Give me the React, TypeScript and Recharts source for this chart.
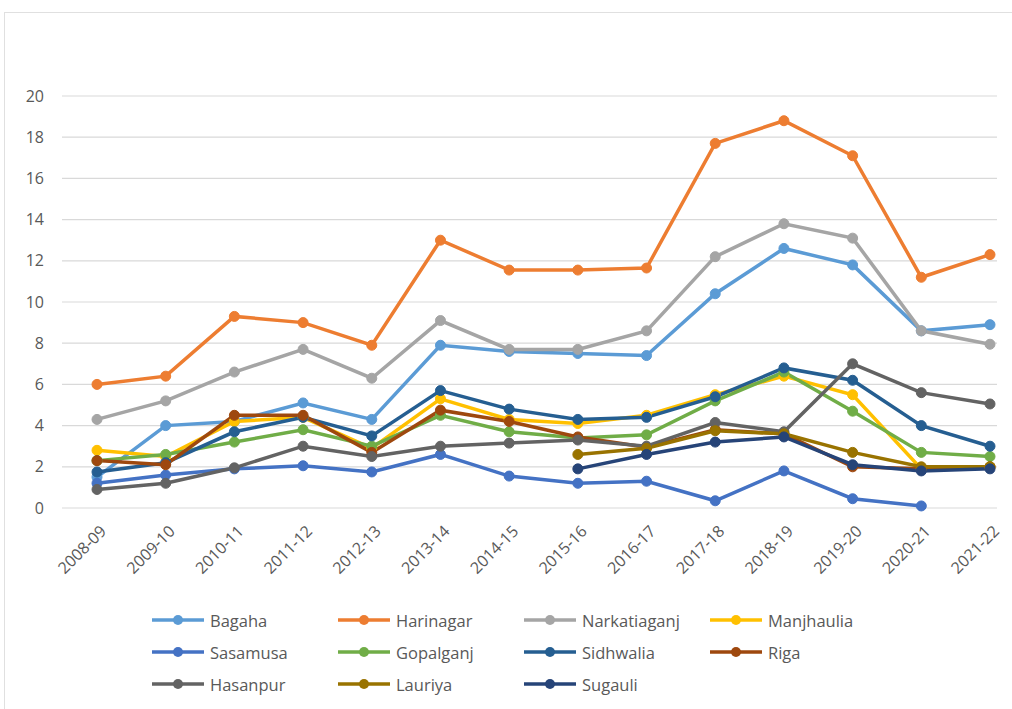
import React from "react";
import { LineChart, Line, XAxis, YAxis, CartesianGrid } from "recharts";

const categories = ["2008-09","2009-10","2010-11","2011-12","2012-13","2013-14","2014-15","2015-16","2016-17","2017-18","2018-19","2019-20","2020-21","2021-22"];
const yTicks = [0, 2, 4, 6, 8, 10, 12, 14, 16, 18, 20];

const bagaha = [1.5, 4.0, 4.2, 5.1, 4.3, 7.9, 7.6, 7.5, 7.4, 10.4, 12.6, 11.8, 8.6, 8.9];
const harinagar = [6.0, 6.4, 9.3, 9.0, 7.9, 13.0, 11.55, 11.55, 11.65, 17.7, 18.8, 17.1, 11.2, 12.3];
const narkatiaganj = [4.3, 5.2, 6.6, 7.7, 6.3, 9.1, 7.7, 7.7, 8.6, 12.2, 13.8, 13.1, 8.6, 7.95];
const manjhaulia = [2.8, 2.5, 4.2, 4.4, 2.9, 5.3, 4.3, 4.1, 4.5, 5.5, 6.4, 5.5, 1.9, 2.0];
const sasamusa = [1.2, 1.6, 1.9, 2.05, 1.75, 2.6, 1.55, 1.2, 1.3, 0.35, 1.8, 0.45, 0.1, null];
const gopalganj = [2.3, 2.6, 3.2, 3.8, 3.0, 4.5, 3.7, 3.4, 3.55, 5.2, 6.6, 4.7, 2.7, 2.5];
const sidhwalia = [1.75, 2.2, 3.7, 4.4, 3.5, 5.7, 4.8, 4.3, 4.4, 5.4, 6.8, 6.2, 4.0, 3.0];
const riga = [2.3, 2.1, 4.5, 4.5, 2.7, 4.75, 4.2, 3.45, 2.95, 3.8, 3.6, 2.0, 1.9, 2.0];
const hasanpur = [0.9, 1.2, 1.95, 3.0, 2.5, 3.0, 3.15, 3.3, 3.0, 4.15, 3.7, 7.0, 5.6, 5.05];
const lauriya = [null, null, null, null, null, null, null, 2.6, 2.9, 3.75, 3.6, 2.7, 2.0, 2.0];
const sugauli = [null, null, null, null, null, null, null, 1.9, 2.6, 3.2, 3.45, 2.1, 1.8, 1.9];

const seriesNames = ["Bagaha","Harinagar","Narkatiaganj","Manjhaulia","Sasamusa","Gopalganj","Sidhwalia","Riga","Hasanpur","Lauriya","Sugauli"];
const seriesValues = [bagaha, harinagar, narkatiaganj, manjhaulia, sasamusa, gopalganj, sidhwalia, riga, hasanpur, lauriya, sugauli];
const seriesColors = ["#5B9BD5","#ED7D31","#A5A5A5","#FFC000","#4472C4","#70AD47","#255E91","#9E480E","#636363","#997300","#264478"];

const data = categories.map((c, i) => {
  const row: Record<string, any> = { cat: c };
  seriesNames.forEach((n, k) => { row[n] = seriesValues[k][i]; });
  return row;
});

const FONT = "'Open Sans', 'Noto Sans', sans-serif";

const XTick = (props: any) => {
  const { x, y, payload } = props;
  return (
    <g transform={`translate(${x + 6},${y + 12})`}>
      <text x={0} y={0} dy={6} textAnchor="end" transform="rotate(-45)" fill="#595959" fontSize={16} fontFamily={FONT}>
        {payload.value}
      </text>
    </g>
  );
};

const LegendBlock = () => (
  <div style={{ position: "absolute", left: 150, top: 608, width: 760, display: "grid", gridTemplateColumns: "186px 186px 186px 186px", rowGap: 8, fontFamily: FONT, fontSize: 16.5, color: "#595959" }}>
    {seriesNames.map((n, k) => (
      <div key={n} style={{ display: "flex", alignItems: "center", height: 24 }}>
        <svg width={58} height={14} style={{ marginRight: 2 }}>
          <line x1={2} y1={7} x2={54} y2={7} stroke={seriesColors[k]} strokeWidth={3.5} />
          <circle cx={28} cy={7} r={5} fill={seriesColors[k]} />
        </svg>
        <span>{n}</span>
      </div>
    ))}
  </div>
);

export default function App() {
  return (
    <div style={{ position: "absolute", left: 0, top: 0, width: 1012, height: 709, background: "#fff", overflow: "hidden" }}>
      <div style={{ position: "absolute", left: 4, top: 12, width: 1010, height: 700, borderLeft: "1px solid #e0e0e0", borderTop: "1px solid #e0e0e0" }} />
      <LineChart width={1012} height={709} data={data} margin={{ top: 96, right: 15, bottom: 101, left: 10 }}>
        <CartesianGrid vertical={false} stroke="#d9d9d9" strokeWidth={1.2} />
        <XAxis dataKey="cat" axisLine={false} tickLine={false} interval={0} padding={{ left: 35, right: 7 }} tick={<XTick />} height={100} />
        <YAxis domain={[0, 20]} ticks={yTicks} axisLine={false} tickLine={false} width={52} tickMargin={12}
          tick={{ fill: "#595959", fontSize: 16, fontFamily: FONT }} />
        {seriesNames.map((n, k) => (
          <Line key={n} type="linear" dataKey={n} stroke={seriesColors[k]} strokeWidth={3.5}
            dot={{ r: 5, fill: seriesColors[k], stroke: seriesColors[k], strokeWidth: 1 }}
            isAnimationActive={false} connectNulls={false} />
        ))}
      </LineChart>
      <LegendBlock />
    </div>
  );
}
